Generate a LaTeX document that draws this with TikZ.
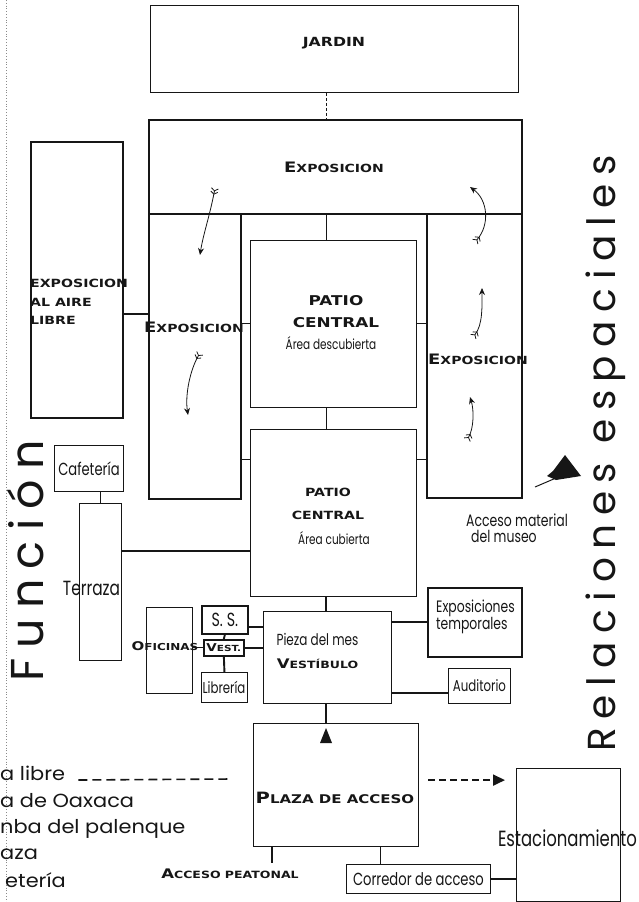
\documentclass[tikz,border=0pt]{standalone}
\usepackage{fontspec}
\usepackage{tikz}
\usetikzlibrary{arrows.meta,positioning}
\setmainfont{Poppins}
\newfontfamily\capfont[FakeStretch=1.25]{DejaVu Sans}
\newfontfamily\narrowfont[FakeStretch=0.75]{Poppins}
\newfontfamily\widefont[FakeStretch=1.1]{Poppins}
\newfontfamily\titlefont[LetterSpace=22]{Poppins}
\newcommand{\capsize}[1]{\fontsize{#1}{#1}\selectfont}
\definecolor{ink}{HTML}{161616}
\definecolor{margin}{HTML}{8A8A8A}

\begin{document}
\begin{tikzpicture}[x=1pt,y=-1pt,box/.style={draw=ink,line width=0.9pt,inner sep=0pt,anchor=north west},heavy/.style={box,line width=1.7pt},link/.style={draw=ink,line width=1pt},bond/.style={draw=ink,line width=1.9pt},lbl/.style={font=\narrowfont\capsize{14},inner sep=0pt,align=center,text=ink},captext/.style={font=\capfont\bfseries\capsize{11.2},inner sep=0pt,align=center,text=ink},flow/.style={draw=ink,line width=0.8pt,{Straight Barb[reversed,length=2.5pt,width=7pt] Straight Barb[reversed,length=2.5pt,width=7pt]}-{Stealth[length=7pt,width=6pt]}},dasharr/.style={draw=ink,line width=1.8pt,dash pattern=on 7pt off 4pt,-{Triangle[length=12pt,width=11pt]}}]
\useasboundingbox (0,0) rectangle (638,902);
\draw[margin,line width=0.8pt,dotted] (6,0) -- (6,902);
\coordinate (spine) at (326,0);
\node[box,minimum width=368pt,minimum height=87pt] (jardin) at (150,5) {};
\node[heavy,minimum width=373pt,minimum height=94pt] (expo) at (148,119) {};
\node[heavy,minimum width=92pt,minimum height=285pt] (expoL) at (148,213) {};
\node[heavy,minimum width=95pt,minimum height=284pt] (expoR) at (426,213) {};
\node[heavy,minimum width=92pt,minimum height=276pt] (aire) at (30,141) {};
\node[box,minimum width=166pt,minimum height=167pt] (patioD) at (250,240) {};
\node[box,minimum width=166pt,minimum height=167pt] (patioC) at (250,429) {};
\node[box,lbl,font=\narrowfont\capsize{17.5},minimum width=69pt,minimum height=46pt] (cafe) at (54,445) {Cafetería};
\node[box,minimum width=42pt,minimum height=157pt] (terraza) at (79,503) {};
\node[box,line width=1.2pt,minimum width=46pt,minimum height=86pt] (ofi) at (146,607) {};
\node[heavy,lbl,font=\narrowfont\capsize{19},minimum width=46pt,minimum height=28pt] (ss) at (201,605) {S. S.};
\node[heavy,captext,font=\capfont\bfseries\capsize{8.4},minimum width=40pt,minimum height=16pt] (vest) at (203,639) {{\capsize{10.8}V}EST.};
\node[box,minimum width=46pt,minimum height=30pt] (libreria) at (201,672) {};
\node[box,minimum width=128pt,minimum height=92pt] (vestibulo) at (263,611) {};
\node[heavy,minimum width=94pt,minimum height=69pt] (exptemp) at (427,587) {};
\node[box,lbl,font=\narrowfont\capsize{15.7},minimum width=62pt,minimum height=35pt] (audit) at (448,668) {Auditorio};
\node[box,line width=1.2pt,minimum width=165pt,minimum height=123pt] (plaza) at (253,723) {};
\node[box,lbl,font=\narrowfont\capsize{17.5},minimum width=144pt,minimum height=29pt] (corredor) at (346,864) {Corredor de acceso};
\node[box,line width=1.2pt,minimum width=104pt,minimum height=133pt] (estac) at (516,768) {};
\node[captext,font=\capfont\bfseries\capsize{12.6}] (jardinT) at (334,43) {JARDIN};
\node[captext] (expoT) at (334,167) {{\capsize{14.4}E}XPOSICION};
\node[captext] (expoLT) at (194,327) {{\capsize{14.4}E}XPOSICION};
\node[captext] (expoRT) at (478,359) {{\capsize{14.4}E}XPOSICION};
\node[captext,font=\capfont\bfseries\fontsize{11.3}{18.5}\selectfont,align=left,anchor=west] (aireT) at (30,302) {EXPOSICION\\AL AIRE\\LIBRE};
\node[captext,font=\capfont\bfseries\fontsize{13.5}{22}\selectfont] (patioDT) at (336,312) {PATIO\\CENTRAL};
\node[lbl] (patioDS) at (331,343) {Área descubierta};
\node[captext,font=\capfont\bfseries\fontsize{11.3}{23}\selectfont] (patioCT) at (328,504) {PATIO\\CENTRAL};
\node[lbl] (patioCS) at (334,538) {Área cubierta};
\node[lbl,font=\narrowfont\capsize{20.5}] (terrazaT) at (91.5,588) {Terraza};
\node[captext,font=\capfont\bfseries\capsize{9.6}] (ofiT) at (165,646) {{\capsize{12}O}FICINAS};
\node[lbl,font=\narrowfont\capsize{15.7}] (libreriaT) at (224,687) {Librería};
\node[lbl,font=\narrowfont\capsize{16}] (piezaT) at (317.5,639) {Pieza del mes};
\node[captext,font=\capfont\bfseries\capsize{10}] (vestT) at (317.5,664) {{\capsize{13.2}V}ESTÍBULO};
\node[lbl,font=\narrowfont\fontsize{16.5}{17}\selectfont,align=left,anchor=west] (exptempT) at (436,617) {Exposiciones\\temporales};
\node[lbl,font=\narrowfont\fontsize{16.6}{16}\selectfont,align=left,anchor=west] (materialT) at (466,528) {Acceso material\\\hspace*{5pt}del museo};
\node[captext,font=\capfont\bfseries\capsize{12}] (plazaT) at (335,798) {{\capsize{15.6}P}LAZA DE ACCESO};
\node[captext,font=\capfont\bfseries\capsize{10}] (peatonal) at (230,874) {{\capsize{13.2}A}CCESO PEATONAL};
\node[lbl,font=\narrowfont\capsize{22}] (estacT) at (567.5,838) {Estacionamiento};
\node[font=\titlefont\capsize{46},rotate=90,anchor=base,inner sep=0pt,text=ink] (funcion) at (43,561) {Función};
\node[font=\titlefont\capsize{39},rotate=90,anchor=base,inner sep=0pt,text=ink] (relaciones) at (615,453.5) {Relaciones espaciales};
\node[font=\widefont\capsize{19},anchor=base west,inner sep=0pt,text=ink] (libre) at (0,780) {a libre};
\node[font=\widefont\capsize{19},anchor=base west,inner sep=0pt,text=ink] (oaxaca) at (0,807) {a de Oaxaca};
\node[font=\widefont\capsize{19},anchor=base west,inner sep=0pt,text=ink] (tumba) at (0,833) {nba del palenque};
\node[font=\widefont\capsize{19},anchor=base west,inner sep=0pt,text=ink] (plazaL) at (0,859) {aza};
\node[font=\widefont\capsize{19},anchor=base west,inner sep=0pt,text=ink] (cafeL) at (5,887) {etería};
\coordinate (libreEnd) at (232,779);
\draw[ink,line width=1.6pt,dash pattern=on 9pt off 5pt] ([xshift=13pt]libre.base east) -- (libreEnd);
\draw[link,dash pattern=on 3pt off 2pt] (jardin.south -| spine) -- (expo.north -| spine);
\draw[link] (expo.south -| spine) -- (patioD.north -| spine);
\draw[link] (patioD.south -| spine) -- (patioC.north -| spine);
\draw[link,line width=1.4pt] (patioC.south -| spine) -- (vestibulo.north -| spine);
\draw[link,line width=1.4pt] (vestibulo.south -| spine) -- (plaza.north -| spine);
\draw[link] (patioD.west) -- (patioD.west -| expoL.east);
\draw[link] (patioD.east) -- (patioD.east -| expoR.west);
\draw[link] ([yshift=-30pt]patioC.north west) -- ([yshift=-30pt]patioC.north west -| expoL.east);
\draw[link] ([yshift=-30pt]patioC.north east) -- ([yshift=-30pt]patioC.north east -| expoR.west);
\draw[bond,line width=1.5pt] ([yshift=-34pt]aire.east) -- ([yshift=-34pt]aire.east -| expoL.west);
\draw[link] (cafe.south -| terraza.north) -- (terraza.north);
\draw[bond] ([yshift=31pt]terraza.east) -- ([yshift=31pt]terraza.east -| patioC.west);
\draw[link] (vest.west) -- (vest.west -| ofi.east);
\draw[bond] (ss.south) -- (vest.north);
\draw[bond] (vest.south) -- (libreria.north);
\draw[bond] ([yshift=-7pt]ss.east) -- ([yshift=-7pt]ss.east -| vestibulo.west);
\draw[bond] (vest.east) -- (vest.east -| vestibulo.west);
\draw[bond] (exptemp.west) -- (exptemp.west -| vestibulo.east);
\draw[link,line width=1.3pt] ([yshift=-7pt]audit.west) -- ([yshift=-7pt]audit.west -| vestibulo.east);
\draw[bond,shorten >=6pt] ([xshift=19pt]plaza.south west) -- ([xshift=19pt]plaza.south west |- peatonal.north);
\draw[bond] ([xshift=-38pt]corredor.north) -- ([xshift=-38pt]corredor.north |- plaza.south);
\draw[link,line width=1.5pt] (corredor.east) -- (corredor.east -| estac.west);
\draw[dasharr,shorten <=9pt,shorten >=11pt] ([yshift=5pt]plaza.east) -- ([yshift=5pt]plaza.east -| estac.west);
\coordinate (entry) at (326,736);
\fill[ink] ([yshift=8pt]entry) -- ([shift={(6pt,-7pt)}]entry) -- ([shift={(-6pt,-7pt)}]entry) -- cycle;
\coordinate (matTail) at (535,487);
\coordinate (matTip) at (565,455);
\draw[ink,line width=1pt] (matTail) -- (556,478);
\fill[ink] (matTip) -- (581,476) -- (556,480) -- (547,476) -- (553,471) -- cycle;
\draw[flow] (215,188) .. controls (210,215) and (203,235) .. (200,255);
\draw[flow] (200,353) .. controls (190,370) and (185,395) .. (188,415);
\draw[flow] (475,242) .. controls (490,225) and (488,200) .. (470,187);
\draw[flow] (473,337) .. controls (483,325) and (482,305) .. (482,288);
\draw[flow] (467,440) .. controls (474,428) and (474,410) .. (470,397);
\end{tikzpicture}
\end{document}
